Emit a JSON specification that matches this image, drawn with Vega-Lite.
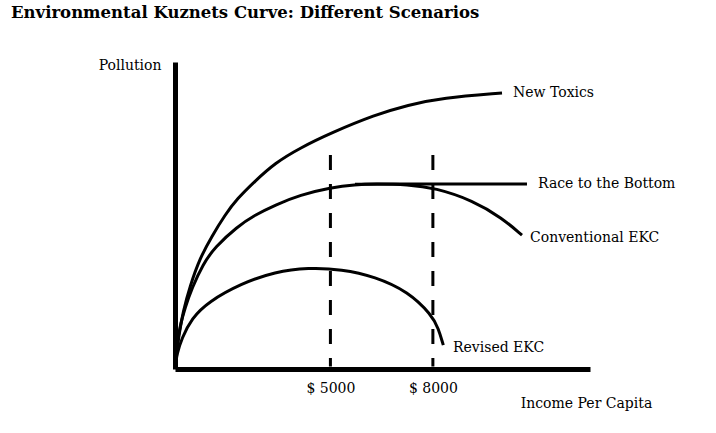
{
  "$schema": "https://vega.github.io/schema/vega-lite/v6.json",
  "autosize": "none",
  "width": 415,
  "height": 307,
  "padding": {"left": 175, "top": 62, "right": 126, "bottom": 64},
  "background": "white",
  "title": {
    "text": "Environmental Kuznets Curve: Different Scenarios",
    "anchor": "start",
    "frame": "group",
    "font": "DejaVu Serif",
    "fontSize": 16.5,
    "fontWeight": "bold",
    "color": "black",
    "baseline": "alphabetic",
    "offset": 24,
    "dx": -164
  },
  "config": {
    "view": {"stroke": null},
    "font": "DejaVu Serif"
  },
  "datasets": {
    "curves": [
      {"series": "New Toxics", "income": 479, "pollution": 2.3},
      {"series": "New Toxics", "income": 509, "pollution": 6.2},
      {"series": "New Toxics", "income": 567, "pollution": 11.1},
      {"series": "New Toxics", "income": 684, "pollution": 18.6},
      {"series": "New Toxics", "income": 889, "pollution": 27.0},
      {"series": "New Toxics", "income": 1182, "pollution": 36.2},
      {"series": "New Toxics", "income": 1533, "pollution": 43.3},
      {"series": "New Toxics", "income": 1914, "pollution": 50.2},
      {"series": "New Toxics", "income": 2265, "pollution": 55.4},
      {"series": "New Toxics", "income": 2792, "pollution": 61.2},
      {"series": "New Toxics", "income": 3378, "pollution": 67.1},
      {"series": "New Toxics", "income": 4110, "pollution": 72.0},
      {"series": "New Toxics", "income": 5017, "pollution": 76.9},
      {"series": "New Toxics", "income": 6305, "pollution": 82.8},
      {"series": "New Toxics", "income": 7271, "pollution": 86.0},
      {"series": "New Toxics", "income": 8267, "pollution": 88.3},
      {"series": "New Toxics", "income": 10024, "pollution": 89.9},

      {"series": "Conventional EKC", "income": 479, "pollution": 2.3},
      {"series": "Conventional EKC", "income": 509, "pollution": 7.8},
      {"series": "Conventional EKC", "income": 596, "pollution": 14.0},
      {"series": "Conventional EKC", "income": 743, "pollution": 19.9},
      {"series": "Conventional EKC", "income": 948, "pollution": 26.4},
      {"series": "Conventional EKC", "income": 1270, "pollution": 34.2},
      {"series": "Conventional EKC", "income": 1621, "pollution": 39.7},
      {"series": "Conventional EKC", "income": 2265, "pollution": 46.3},
      {"series": "Conventional EKC", "income": 2792, "pollution": 50.2},
      {"series": "Conventional EKC", "income": 3378, "pollution": 53.4},
      {"series": "Conventional EKC", "income": 4110, "pollution": 56.7},
      {"series": "Conventional EKC", "income": 5017, "pollution": 59.1},
      {"series": "Conventional EKC", "income": 5720, "pollution": 60.1},
      {"series": "Conventional EKC", "income": 6305, "pollution": 60.3},
      {"series": "Conventional EKC", "income": 7271, "pollution": 60.1},
      {"series": "Conventional EKC", "income": 8062, "pollution": 59.0},
      {"series": "Conventional EKC", "income": 9175, "pollution": 54.9},
      {"series": "Conventional EKC", "income": 10024, "pollution": 49.2},
      {"series": "Conventional EKC", "income": 10609, "pollution": 43.6},

      {"series": "Race to the Bottom", "income": 5720, "pollution": 60.2},
      {"series": "Race to the Bottom", "income": 6305, "pollution": 60.3},
      {"series": "Race to the Bottom", "income": 10755, "pollution": 60.3},

      {"series": "Revised EKC", "income": 479, "pollution": 2.3},
      {"series": "Revised EKC", "income": 500, "pollution": 4.6},
      {"series": "Revised EKC", "income": 646, "pollution": 10.0},
      {"series": "Revised EKC", "income": 939, "pollution": 16.5},
      {"series": "Revised EKC", "income": 1425, "pollution": 21.9},
      {"series": "Revised EKC", "income": 2403, "pollution": 27.9},
      {"series": "Revised EKC", "income": 3378, "pollution": 31.7},
      {"series": "Revised EKC", "income": 4353, "pollution": 33.0},
      {"series": "Revised EKC", "income": 5330, "pollution": 32.5},
      {"series": "Revised EKC", "income": 6306, "pollution": 30.1},
      {"series": "Revised EKC", "income": 7280, "pollution": 25.2},
      {"series": "Revised EKC", "income": 7965, "pollution": 17.6},
      {"series": "Revised EKC", "income": 8159, "pollution": 13.3},
      {"series": "Revised EKC", "income": 8305, "pollution": 7.8}
    ],
    "markers": [
      {"income": 5000, "top": 69.7, "bottom": 0.8},
      {"income": 8000, "top": 69.7, "bottom": 0.8}
    ],
    "labels": [
      {"label": "New Toxics", "income": 10346, "pollution": 89.8},
      {"label": "Race to the Bottom", "income": 11078, "pollution": 60.2},
      {"label": "Conventional EKC", "income": 10843, "pollution": 42.7},
      {"label": "Revised EKC", "income": 8589, "pollution": 6.9}
    ]
  },
  "layer": [
    {
      "data": {"name": "markers"},
      "mark": {"type": "rule", "color": "black", "strokeWidth": 3, "strokeDash": [15, 14]},
      "encoding": {
        "x": {"field": "income", "type": "quantitative"},
        "y": {"field": "top", "type": "quantitative"},
        "y2": {"field": "bottom"}
      }
    },
    {
      "data": {"name": "curves"},
      "mark": {"type": "line", "color": "black", "strokeWidth": 3, "interpolate": "basis"},
      "encoding": {
        "x": {
          "field": "income",
          "type": "quantitative",
          "scale": {"domain": [450, 12600], "nice": false, "zero": false},
          "axis": {
            "values": [5000, 8000],
            "labelExpr": "'$ ' + datum.value",
            "ticks": false,
            "grid": false,
            "domainColor": "black",
            "domainWidth": 5,
            "labelColor": "black",
            "labelFont": "DejaVu Serif",
            "labelFontSize": 14,
            "labelPadding": 12,
            "title": "Income Per Capita",
            "titleFont": "DejaVu Serif",
            "titleFontSize": 14,
            "titleFontWeight": "normal",
            "titleColor": "black",
            "titleX": 411,
            "titleY": 34,
            "titleAlign": "center",
            "titleBaseline": "middle"
          }
        },
        "y": {
          "field": "pollution",
          "type": "quantitative",
          "scale": {"domain": [0, 100], "nice": false},
          "axis": {
            "ticks": false,
            "labels": false,
            "grid": false,
            "domainColor": "black",
            "domainWidth": 5,
            "title": "Pollution",
            "titleFont": "DejaVu Serif",
            "titleFontSize": 14,
            "titleFontWeight": "normal",
            "titleColor": "black",
            "titleAngle": 0,
            "titleAlign": "right",
            "titleBaseline": "middle",
            "titleX": -14,
            "titleY": 3
          }
        },
        "detail": {"field": "series", "type": "nominal"}
      }
    },
    {
      "data": {"name": "labels"},
      "mark": {"type": "text", "align": "left", "baseline": "middle", "font": "DejaVu Serif", "fontSize": 14, "color": "black"},
      "encoding": {
        "x": {"field": "income", "type": "quantitative"},
        "y": {"field": "pollution", "type": "quantitative"},
        "text": {"field": "label"}
      }
    }
  ]
}
